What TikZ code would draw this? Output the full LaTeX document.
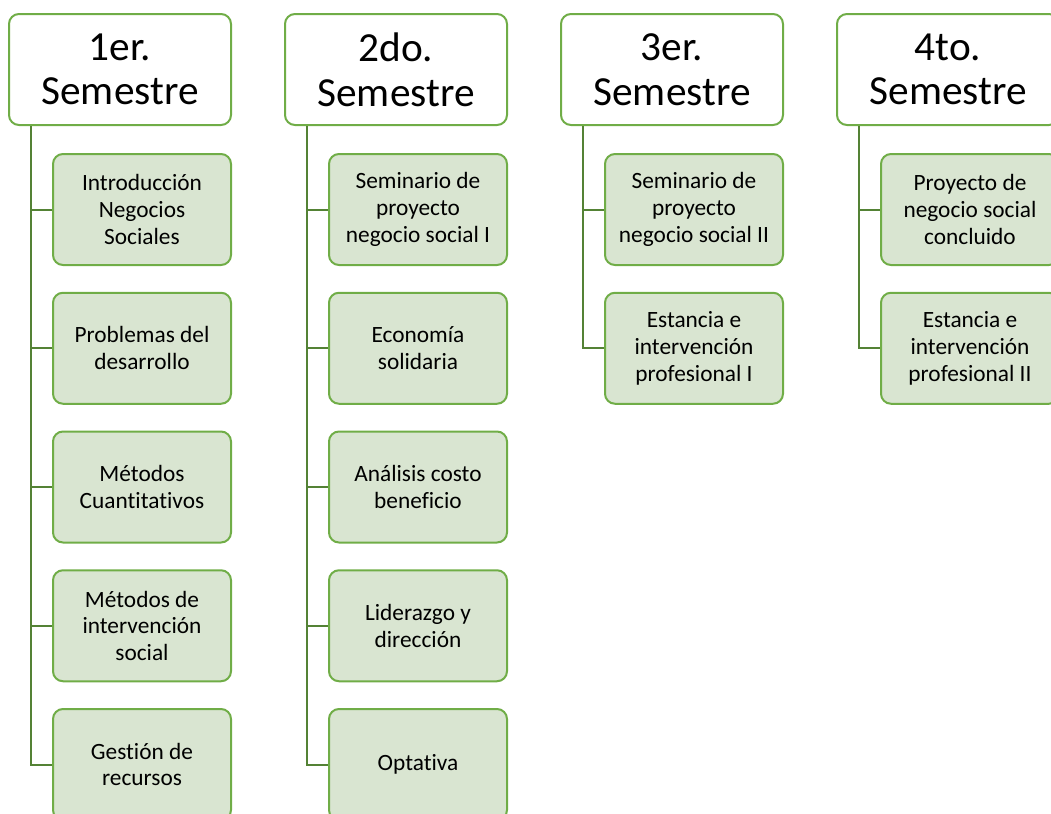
\documentclass[tikz,border=0pt]{standalone}
\usepackage{fontspec}
\setmainfont{Carlito}[Ligatures=CommonOff]
\usetikzlibrary{positioning}
\definecolor{green1}{RGB}{112,173,71}
\definecolor{green2}{RGB}{84,130,53}
\definecolor{greenfill}{RGB}{217,229,209}
\begin{document}
\begin{tikzpicture}[x=0.75pt, y=-0.75pt,
    semester/.style={draw=green1, fill=white, line width=1.5pt, rounded corners=7.5pt, minimum width=166.5pt, minimum height=83.25pt, align=center, font=\fontsize{31}{33.5}\selectfont},
    course/.style={draw=green1, fill=greenfill, line width=1.5pt, rounded corners=7.5pt, minimum width=133.5pt, minimum height=83.25pt, inner sep=2pt, align=center, font=\fontsize{17.5}{20}\selectfont},
    link/.style={draw=green2, line width=1.5pt}
]
        \useasboundingbox (0,0) rectangle (1051,814);
        \clip (0,0) rectangle (1051,814);

        \node[semester, name=s1] at(120,69.5) {1er.\\Semestre};
        \node[semester, name=s2] at(396,69.5) {2do.\\Semestre};
        \node[semester, name=s3] at(672,69.5) {3er.\\Semestre};
        \node[semester, name=s4] at(948,69.5) {4to.\\Semestre};

        \node[course, name=c11] at(142,209.5) {Introducción\\Negocios\\Sociales};
        \node[course, name=c12] at(142,348.25) {Problemas del\\desarrollo};
        \node[course, name=c13] at(142,487) {Métodos\\Cuantitativos};
        \node[course, name=c14] at(142,625.75) {Métodos de\\intervención\\social};
        \node[course, name=c15] at(142,764.5) {Gestión de\\recursos};

        \node[course, name=c21] at(418,209.5) {Seminario de\\proyecto\\negocio social I};
        \node[course, name=c22] at(418,348.25) {Economía\\solidaria};
        \node[course, name=c23] at(418,487) {Análisis costo\\beneficio};
        \node[course, name=c24] at(418,625.75) {Liderazgo y\\dirección};
        \node[course, name=c25] at(418,764.5) {Optativa};

        \node[course, name=c31] at(694,209.5) {Seminario de\\proyecto\\negocio social II};
        \node[course, name=c32] at(694,348.25) {Estancia e\\intervención\\profesional I};

        \node[course, name=c41] at(970,209.5) {Proyecto de\\negocio social\\concluido};
        \node[course, name=c42] at(970,348.25) {Estancia e\\intervención\\profesional II};

        \draw[link] ([xshift=17.25pt]s1.south west) |- (c11.west);
        \draw[link] ([xshift=17.25pt]s1.south west) |- (c12.west);
        \draw[link] ([xshift=17.25pt]s1.south west) |- (c13.west);
        \draw[link] ([xshift=17.25pt]s1.south west) |- (c14.west);
        \draw[link] ([xshift=17.25pt]s1.south west) |- (c15.west);

        \draw[link] ([xshift=17.25pt]s2.south west) |- (c21.west);
        \draw[link] ([xshift=17.25pt]s2.south west) |- (c22.west);
        \draw[link] ([xshift=17.25pt]s2.south west) |- (c23.west);
        \draw[link] ([xshift=17.25pt]s2.south west) |- (c24.west);
        \draw[link] ([xshift=17.25pt]s2.south west) |- (c25.west);

        \draw[link] ([xshift=17.25pt]s3.south west) |- (c31.west);
        \draw[link] ([xshift=17.25pt]s3.south west) |- (c32.west);

        \draw[link] ([xshift=17.25pt]s4.south west) |- (c41.west);
        \draw[link] ([xshift=17.25pt]s4.south west) |- (c42.west);
\end{tikzpicture}
\end{document}
